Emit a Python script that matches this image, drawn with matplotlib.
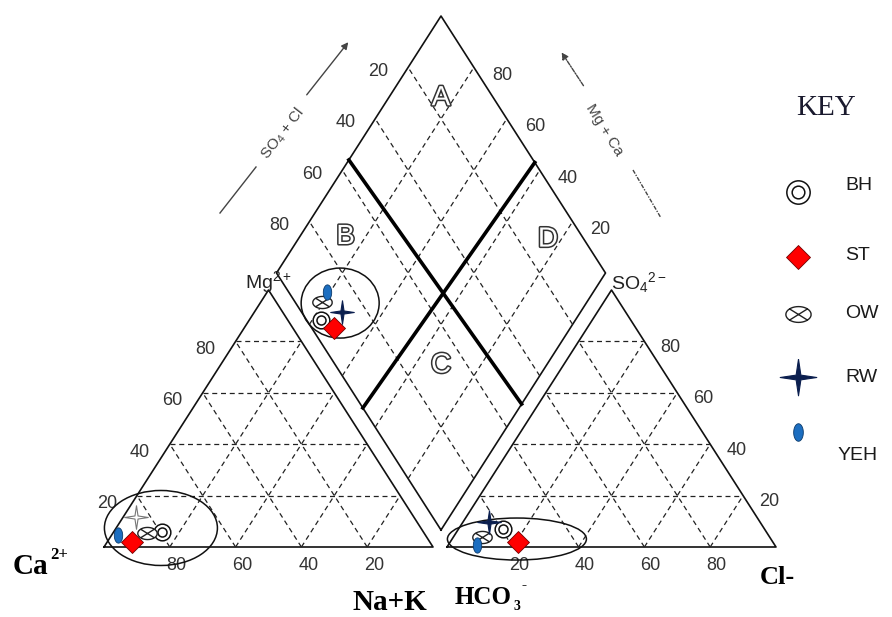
"""
Piper diagram: BH / ST / OW / RW / YEH water samples
"""

import numpy as np
import matplotlib.pyplot as plt
from matplotlib.path import Path
from matplotlib.patches import Ellipse
import matplotlib.patheffects as pe

plt.rcParams['mathtext.fontset'] = 'custom'
plt.rcParams['mathtext.rm'] = 'Liberation Sans'
plt.rcParams['mathtext.it'] = 'Liberation Sans:italic'
plt.rcParams['mathtext.bf'] = 'Liberation Sans:bold'

# ---- data (percent) ----
samples = ['BH', 'ST', 'OW', 'RW', 'YEH']
# cation triangle: Mg and Na+K (Ca is the rest)
cat_mg = [5.8, 1.9, 5.4, 11.7, 4.7]
cat_nak = [14.7, 7.5, 10.4, 3.9, 1.9]
# anion triangle: SO4 and Cl (HCO3 is the rest)
an_so4 = [7.0, 1.9, 3.9, 9.7, 0.8]
an_cl = [13.5, 20.6, 8.7, 7.9, 8.7]
# diamond: SO4+Cl and Ca+Mg
dia_so4cl = [4.3, 6.8, 8.1, 12.4, 11.6]
dia_camg = [77.4, 71.8, 80.6, 72.5, 81.0]
grid_ticks = [20, 40, 60, 80]

# ---- layout (pixels) ----
SIDE = 329.0
HGT = 257.0
L0 = (104.0, 547.0)     # Ca corner
R0 = (447.0, 547.0)     # HCO3 corner
DB = (441.0, 530.0)     # diamond bottom


def tri_xy(origin, right, up):
    right = np.asarray(right) / 100.0
    up = np.asarray(up) / 100.0
    return origin[0] + (right + up / 2) * SIDE, origin[1] - up * HGT


def dia_xy(a, b):
    a = np.asarray(a) / 100.0
    b = np.asarray(b) / 100.0
    return DB[0] + SIDE / 2 * (a - b), DB[1] - HGT * (a + b)


# ---- marker shapes ----
th = np.linspace(0, 2 * np.pi, 41)
ow_verts = list(zip(0.8 * np.cos(th), 0.5 * np.sin(th)))
k = 0.8 * np.cos(np.pi / 4), 0.5 * np.sin(np.pi / 4)
ow_verts += [(-k[0], -k[1]), (k[0], k[1]), (-k[0], k[1]), (k[0], -k[1])]
ow_codes = [Path.MOVETO] + [Path.LINETO] * 40 + [Path.MOVETO, Path.LINETO, Path.MOVETO, Path.LINETO]
OW_MARK = Path(ow_verts, ow_codes)

w = 0.13
STAR = Path([(0, 1), (w, w), (1, 0), (w, -w), (0, -1), (-w, -w), (-1, 0), (-w, w), (0, 1)])
OVAL = Path(list(zip(0.55 * np.cos(th), np.sin(th))))

styles = {
    'BH': None,
    'ST': dict(marker='D', mfc='#ff0000', mec='#700000', mew=0.6),
    'OW': dict(marker=OW_MARK, mfc='white', mec='#222222', mew=1.0),
    'RW': dict(marker=STAR, mfc='#0b1f4f', mec='#0b1f4f', mew=0.8),
    'YEH': dict(marker=OVAL, mfc='#1c6ec0', mec='#0b3a6b', mew=0.6),
}
sizes = {'BH': 12, 'ST': 11, 'OW': 14, 'RW': 17, 'YEH': 11}


def draw_marker(ax, name, x, y, scale=1.0, white_star=False, z=5):
    if name == 'BH':
        ax.plot(x, y, 'o', ms=12 * scale, mfc='white', mec='#111111', mew=1.1, zorder=z)
        ax.plot(x, y, 'o', ms=6.5 * scale, mfc='white', mec='#111111', mew=1.1, zorder=z)
        return
    st = dict(styles[name])
    if white_star and name == 'RW':
        st.update(mfc='white', mec='#777777')
    ax.plot(x, y, ls='none', ms=sizes[name] * scale, zorder=z, **st)


fig = plt.figure(figsize=(8.92, 6.17), dpi=100)
ax = fig.add_axes([0, 0, 1, 1])
ax.set_xlim(0, 892)
ax.set_ylim(617, 0)
ax.axis('off')

dash = dict(color='#222222', lw=0.9, ls=(0, (4, 3)))
edge = dict(color='#111111', lw=1.2)

# triangles: outline + dashed grid
for org in (L0, R0):
    x, y = tri_xy(org, [0, 100, 0, 0], [0, 0, 100, 0])
    ax.plot(x, y, **edge)
    for t in grid_ticks:
        x, y = tri_xy(org, [0, 100 - t], [t, t])
        ax.plot(x, y, **dash)
        x, y = tri_xy(org, [t, t], [0, 100 - t])
        ax.plot(x, y, **dash)
        x, y = tri_xy(org, [100 - t, 0], [0, 100 - t])
        ax.plot(x, y, **dash)

# diamond: outline + dashed grid + thick dividers
x, y = dia_xy([0, 100, 100, 0, 0], [0, 0, 100, 100, 0])
ax.plot(x, y, **edge)
for t in grid_ticks:
    x, y = dia_xy([t, t], [0, 100])
    ax.plot(x, y, **dash)
    x, y = dia_xy([0, 100], [t, t])
    ax.plot(x, y, **dash)
x, y = dia_xy([44, 49], [100, 0])
ax.plot(x, y, color='black', lw=2.6)
x, y = dia_xy([100, 0], [43, 47.5])
ax.plot(x, y, color='black', lw=2.6)

# tick labels
tk = dict(fontsize=13, family='Liberation Sans', color='#333333', ha='center', va='center')
for t in grid_ticks:
    x, y = tri_xy(L0, 0, t)
    ax.text(x - 30, y + 8, str(t), **tk)
    x, y = tri_xy(L0, 100 - t, 0)
    ax.text(x + 7, y + 18, str(t), **tk)
    x, y = tri_xy(R0, t, 0)
    ax.text(x + 6, y + 18, str(t), **tk)
    x, y = tri_xy(R0, 100 - t, t)
    ax.text(x + 26, y + 6, str(t), **tk)
    x, y = dia_xy(100 - t, 100)
    ax.text(x - 30, y + 4, str(t), **tk)
    x, y = dia_xy(100, t)
    ax.text(x + 28, y + 8, str(t), **tk)

# field letters
hollow = [pe.withStroke(linewidth=2.2, foreground='#333333')]
for letter, (a, b) in zip('ABDC', [(84, 84), (28, 86), (89, 24), (32, 32)]):
    x, y = dia_xy(a, b)
    ax.text(x, y, letter, fontsize=20, color='white', ha='center', va='center',
            family='Liberation Sans', path_effects=hollow)

# corner / ion labels
sans = dict(family='Liberation Sans', color='#222222', va='center')
ax.text(245, 282, r'Mg$^{2+}$', fontsize=14, ha='left', **sans)
ax.text(611, 283, r'SO$_4$$^{2-}$', fontsize=14, ha='left', **sans)

serif = dict(family='Liberation Serif', weight='bold', color='black', va='center')
ax.text(13, 566, 'Ca', fontsize=21, ha='left', **serif)
ax.text(50, 555, '2+', fontsize=12, ha='left', **serif)
ax.text(390, 603, 'Na+K', fontsize=21, ha='center', **serif)
ax.text(455, 597, 'HCO', fontsize=18, ha='left', **serif)
ax.text(514, 606, '3', fontsize=10, ha='left', **serif)
ax.text(522, 586, '-', fontsize=11, ha='left', **serif)
ax.text(760, 578, 'Cl-', fontsize=19, ha='left', **serif)

# axis arrows along the diamond
gray = '#444444'
ax.plot([220, 256], [213, 167], color=gray, lw=1.0)
ax.annotate('', xy=(350, 40), xytext=(305, 97),
            arrowprops=dict(arrowstyle='-|>', color=gray, lw=1.0, mutation_scale=10))
ax.text(283, 133, r'SO$_4$ + Cl', fontsize=11, rotation=52, color=gray,
        family='Liberation Sans', ha='center', va='center')
dd = (0, (3, 1, 1, 1))
ax.annotate('', xy=(560, 50), xytext=(585, 88),
            arrowprops=dict(arrowstyle='-|>', color=gray, lw=1.0, ls=dd, mutation_scale=10))
ax.plot([633, 661], [170, 218], color=gray, lw=1.0, ls=dd)
ax.text(604, 130, 'Mg + Ca', fontsize=11, rotation=-58, color=gray,
        family='Liberation Sans', ha='center', va='center')

# group rings
ring_cat = (13.6, 7.4)
ring_an = (19.7, 3.1)
ring_dia = (13.5, 74.8)
x, y = tri_xy(L0, *ring_cat)
ax.add_patch(Ellipse((x, y), 113, 75, fill=False, ec='#111111', lw=1.1, zorder=3))
x, y = tri_xy(R0, *ring_an)
ax.add_patch(Ellipse((x, y), 139, 42, fill=False, ec='#111111', lw=1.1, zorder=3))
x, y = dia_xy(*ring_dia)
ax.add_patch(Ellipse((x, y), 78, 70, fill=False, ec='#111111', lw=1.1, zorder=3))

# samples
for i, name in enumerate(samples):
    x, y = tri_xy(L0, cat_nak[i], cat_mg[i])
    draw_marker(ax, name, x, y, white_star=True)
    x, y = tri_xy(R0, an_cl[i], an_so4[i])
    draw_marker(ax, name, x, y)
    x, y = dia_xy(dia_so4cl[i], dia_camg[i])
    draw_marker(ax, name, x, y)

# key
ax.text(826, 108, 'KEY', fontsize=21, family='Liberation Serif', color='#1a1a2e',
        ha='center', va='center')
key_y = [192, 257, 314, 377, 432]
lab_y = [186, 255, 314, 377, 455]
lab_x = [845, 845, 845, 845, 838]
key_scale = {'BH': 1.4, 'ST': 1.1, 'OW': 1.3, 'RW': 1.55, 'YEH': 1.15}
for name, ky, ly, lx in zip(samples, key_y, lab_y, lab_x):
    draw_marker(ax, name, 798, ky, scale=key_scale[name])
    ax.text(lx, ly, name, fontsize=14, family='Liberation Sans', color='#1a1a1a',
            ha='left', va='center')

fig.savefig('out.png', dpi=100)
